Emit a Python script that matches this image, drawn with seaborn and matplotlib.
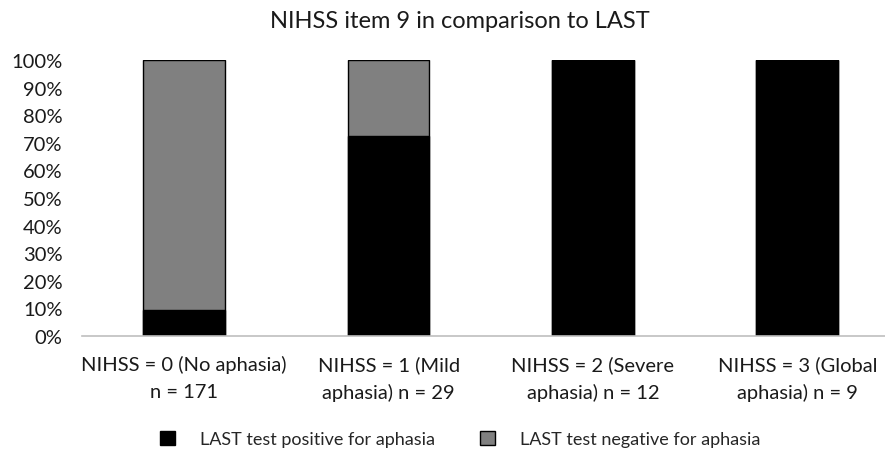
import pandas as pd
import seaborn as sns
import matplotlib.pyplot as plt
from matplotlib.patches import Patch
from matplotlib.ticker import PercentFormatter

categories = [
    "NIHSS = 0 (No aphasia)\nn = 171",
    "NIHSS = 1 (Mild\naphasia) n = 29",
    "NIHSS = 2 (Severe\naphasia) n = 12",
    "NIHSS = 3 (Global\naphasia) n = 9",
]
positive = [9.4, 72.4, 100, 100]
negative = [90.6, 27.6, 0, 0]
series_names = ["LAST test positive for aphasia", "LAST test negative for aphasia"]
colors = ["#000000", "#808080"]
yticks = [0, 10, 20, 30, 40, 50, 60, 70, 80, 90, 100]

df = pd.DataFrame({"cat": categories, "pos": positive, "neg": negative})
df["total"] = df["pos"] + df["neg"]

sns.set_style("white")
plt.rcParams["font.family"] = ["Lato", "DejaVu Sans"]

fig = plt.figure(figsize=(8.85, 4.56), dpi=100)
ax = fig.add_axes([0.0927, 0.261, 0.9237, 0.605])

# stacked: draw the total in gray, then positive in black on top
sns.barplot(data=df, x="cat", y="total", color=colors[1], edgecolor="black",
            linewidth=1, width=0.4, saturation=1, ax=ax)
sns.barplot(data=df, x="cat", y="pos", color=colors[0], edgecolor="black",
            linewidth=1, width=0.4, saturation=1, ax=ax)

ax.set_ylim(0, 100)
ax.set_yticks(yticks)
ax.yaxis.set_major_formatter(PercentFormatter(decimals=0))
ax.set_xlim(-0.5, 3.5)
ax.set_xlabel("")
ax.set_ylabel("")
ax.tick_params(axis="both", length=0, labelsize=14.5, colors="#1a1a1a")
ax.tick_params(axis="y", pad=14)
ax.tick_params(axis="x", pad=14)
for lab in ax.get_xticklabels():
    lab.set_linespacing(1.65)

for s in ["top", "right", "left"]:
    ax.spines[s].set_visible(False)
ax.spines["bottom"].set_color("#bfbfbf")
ax.spines["bottom"].set_linewidth(1.2)

fig.text(0.52, 0.953, "NIHSS item 9 in comparison to LAST", ha="center",
         va="center", fontsize=17, color="#1a1a1a")

handles = [Patch(facecolor=c, edgecolor="black", linewidth=1) for c in colors]
fig.legend(handles, series_names, loc="center", bbox_to_anchor=(0.52, 0.035),
           ncol=2, frameon=False, fontsize=13, handlelength=0.8,
           handleheight=0.8, columnspacing=2.5, handletextpad=1.4)

fig.savefig("out.png", dpi=100)
